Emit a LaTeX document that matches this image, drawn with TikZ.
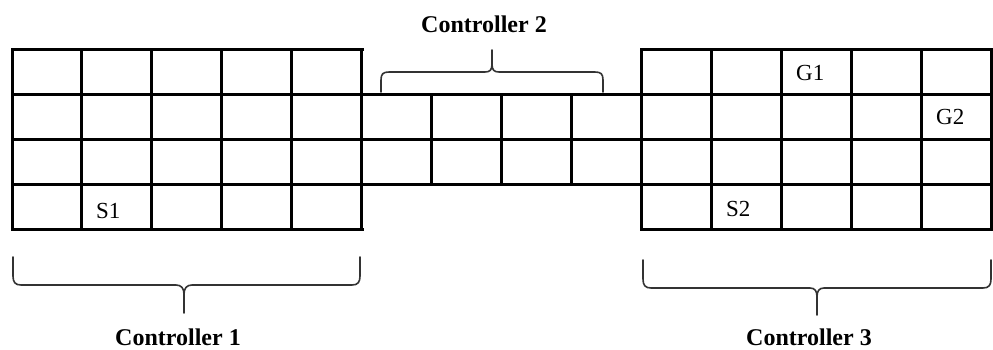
\documentclass[tikz,border=0pt]{standalone}
\usepackage{fontspec}
\setmainfont{Liberation Serif}
\begin{document}
\begin{tikzpicture}[x=1pt,y=-1pt,
  gridline/.style={line width=3pt,line cap=rect},
  bracepath/.style={line width=1.6pt,draw=black!80,line cap=round,line join=round},
  cell/.style={font=\fontsize{23}{26}\selectfont,inner sep=0pt,anchor=base west},
  ctrl/.style={font=\fontsize{24}{28}\selectfont\bfseries,inner sep=0pt,anchor=base}]
\useasboundingbox (0,0) rectangle (993,349);
\def\cw{69.93}
% full-width row lines
\foreach \y in {94,139,184}
  \draw[gridline] (12,\y) -- (991,\y);
% top and bottom edges of the outer blocks
\foreach \y in {49,229}{
  \draw[gridline] (12,\y) -- (362,\y);
  \draw[gridline] (642,\y) -- (991,\y);
}
% columns of the left and right blocks
\foreach \i in {0,...,5}{
  \draw[gridline] ({12+\i*\cw},49) -- ({12+\i*\cw},229);
  \draw[gridline] ({12+(\i+9)*\cw},49) -- ({12+(\i+9)*\cw},229);
}
% columns of the narrow middle block
\foreach \i in {6,7,8}
  \draw[gridline] ({12+\i*\cw},94) -- ({12+\i*\cw},184);
% cell labels
\node[cell] (s1) at (96,218) {S1};
\node[cell] (s2) at (726,216) {S2};
\node[cell] (g1) at (796,80) {G1};
\node[cell] (g2) at (936,124) {G2};
% brace over the middle block
\draw[bracepath] (381,92) -- (381,80) .. controls (381,74) and (383,72) .. (389,72)
  -- (485,72) .. controls (490,72) and (492,70) .. (492,64) -- (492,50);
\draw[bracepath] (603,92) -- (603,80) .. controls (603,74) and (601,72) .. (595,72)
  -- (499,72) .. controls (494,72) and (492,70) .. (492,64);
% brace under the left block
\draw[bracepath] (13,257) -- (13,276) .. controls (13,282) and (15,285) .. (21,285)
  -- (176,285) .. controls (181,285) and (184,288) .. (184,294) -- (184,313);
\draw[bracepath] (360,257) -- (360,276) .. controls (360,282) and (358,285) .. (352,285)
  -- (192,285) .. controls (187,285) and (184,288) .. (184,294);
% brace under the right block
\draw[bracepath] (643,260) -- (643,279) .. controls (643,285) and (645,288) .. (651,288)
  -- (810,288) .. controls (815,288) and (817,291) .. (817,297) -- (817,315);
\draw[bracepath] (991,260) -- (991,279) .. controls (991,285) and (989,288) .. (983,288)
  -- (824,288) .. controls (819,288) and (817,291) .. (817,297);
% controller captions
\node[ctrl] (c2) at (484,32) {Controller 2};
\node[ctrl] (c1) at (178,345) {Controller 1};
\node[ctrl] (c3) at (809,345) {Controller 3};
\end{tikzpicture}
\end{document}
